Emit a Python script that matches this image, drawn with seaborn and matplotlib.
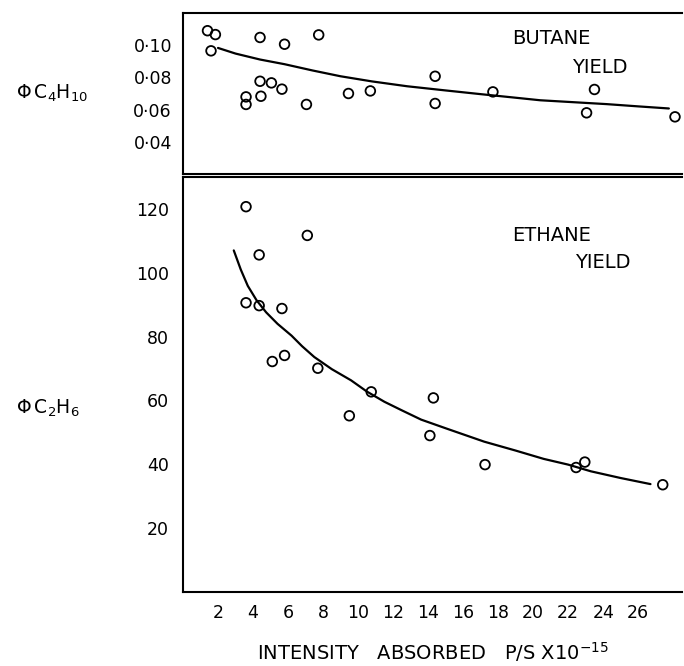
import numpy as np
import pandas as pd
import seaborn as sns
import matplotlib.pyplot as plt

# --- data ---
butane_x = [1.4, 1.85, 1.6, 4.4, 5.8, 7.75, 3.6, 3.6, 4.4, 4.45, 5.05, 5.65,
            7.05, 9.45, 10.7, 14.4, 14.4, 17.7, 23.5, 23.05, 28.1]
butane_y = [0.109, 0.1066, 0.0965, 0.1048, 0.1006, 0.1064, 0.0679, 0.0632,
            0.0776, 0.0683, 0.0766, 0.0727, 0.0632, 0.070, 0.0716, 0.0807,
            0.0638, 0.071, 0.0725, 0.058, 0.0555]
butane_curve_x = [2.0, 3.0, 4.4, 5.8, 7.4, 9.0, 10.8, 12.8, 15.0, 17.0, 18.8,
                  20.4, 22.3, 24.2, 26.0, 27.75]
butane_curve_y = [0.0983, 0.0948, 0.0911, 0.0882, 0.0843, 0.0807, 0.0775,
                  0.0745, 0.0719, 0.0696, 0.0676, 0.0658, 0.0646, 0.0634,
                  0.0620, 0.0607]

ethane_x = [3.6, 7.1, 4.35, 3.6, 4.35, 5.65, 5.1, 5.8, 7.7, 10.75, 9.5, 14.3,
            14.1, 17.25, 22.45, 22.95, 27.4]
ethane_y = [120.7, 111.7, 105.6, 90.6, 89.7, 88.8, 72.2, 74.1, 70.1, 62.7,
            55.2, 60.8, 49.0, 39.9, 39.0, 40.7, 33.6]
ethane_curve_x = [2.9, 3.3, 3.7, 4.2, 4.75, 5.4, 6.2, 6.8, 7.5, 8.5, 9.6,
                  10.5, 11.5, 12.5, 13.6, 15.1, 17.2, 19.0, 20.6, 22.0, 23.3,
                  25.0, 26.7]
ethane_curve_y = [107.0, 101.0, 95.9, 91.4, 87.6, 84.0, 80.3, 77.0, 73.6,
                  69.8, 66.3, 62.8, 59.6, 56.9, 54.0, 51.1, 47.1, 44.3, 41.7,
                  39.9, 37.8, 35.7, 33.8]

x_ticks = list(range(2, 27, 2))
butane_ticks = [0.04, 0.06, 0.08, 0.10]
butane_ticklabels = ["0·04", "0·06", "0·08", "0·10"]
ethane_ticks = [20, 40, 60, 80, 100, 120]

sns.set_style("white")
plt.rcParams['font.family'] = ['DejaVu Sans']
plt.rcParams['mathtext.fontset'] = 'dejavusans'
plt.rcParams['text.color'] = 'black'
plt.rcParams['axes.labelcolor'] = 'black'

W, H = 684, 666
fig = plt.figure(figsize=(W / 100, H / 100), dpi=100)
left = 183 / W
width = (682 - 183) / W
ax_top = fig.add_axes([left, 1 - 174 / H, width, (174 - 13) / H])
ax_bot = fig.add_axes([left, 1 - 592 / H, width, (592 - 177) / H])

bdf = pd.DataFrame({'x': butane_x, 'y': butane_y})
bcurve = pd.DataFrame({'x': butane_curve_x, 'y': butane_curve_y})
edf = pd.DataFrame({'x': ethane_x, 'y': ethane_y})
ecurve = pd.DataFrame({'x': ethane_curve_x, 'y': ethane_curve_y})

for ax, pts, cur in [(ax_top, bdf, bcurve), (ax_bot, edf, ecurve)]:
    sns.lineplot(data=cur, x='x', y='y', ax=ax, color='black', lw=1.6,
                 sort=True, estimator=None)
    sns.scatterplot(data=pts, x='x', y='y', ax=ax, marker='o', s=48,
                    facecolor='none', edgecolor='black', linewidth=1.3, zorder=3)
    ax.set_xlim(0, 28.5)
    ax.set_xlabel('')
    for side in ['left', 'top', 'bottom']:
        ax.spines[side].set_color('black')
        ax.spines[side].set_linewidth(1.5)
    ax.spines['right'].set_visible(False)
    ax.tick_params(axis='both', direction='in', color='black', width=1.0,
                   labelsize=12.5, labelcolor='black')

# top panel
ax_top.set_ylim(0.02, 0.12)
ax_top.set_yticks(butane_ticks)
ax_top.set_yticklabels(butane_ticklabels)
ax_top.set_xticks([])
ax_top.tick_params(axis='y', length=5, pad=8)
ax_top.set_ylabel(r'$\Phi\,\mathrm{C_4H_{10}}$', rotation=0, ha='left',
                  va='center', fontsize=13.5)
ax_top.yaxis.set_label_coords(-0.335, 0.5)
ax_top.text(0.66, 0.84, 'BUTANE', transform=ax_top.transAxes, fontsize=14,
            ha='left', va='center')
ax_top.text(0.78, 0.66, 'YIELD', transform=ax_top.transAxes, fontsize=14,
            ha='left', va='center')

# bottom panel
ax_bot.set_ylim(0, 130)
ax_bot.set_yticks(ethane_ticks)
ax_bot.set_xticks(x_ticks)
ax_bot.tick_params(axis='y', length=5, pad=10)
ax_bot.tick_params(axis='x', length=9, pad=9)
ax_bot.set_ylabel(r'$\Phi\,\mathrm{C_2H_6}$', rotation=0, ha='left',
                  va='center', fontsize=13.5)
ax_bot.yaxis.set_label_coords(-0.335, 0.442)
ax_bot.text(0.66, 0.86, 'ETHANE', transform=ax_bot.transAxes, fontsize=14,
            ha='left', va='center')
ax_bot.text(0.785, 0.795, 'YIELD', transform=ax_bot.transAxes, fontsize=14,
            ha='left', va='center')
ax_bot.set_xlabel(r'INTENSITY   ABSORBED   P/S X10$^{-15}$', fontsize=14,
                  labelpad=13)

fig.savefig('out.png', dpi=100, facecolor='white')
